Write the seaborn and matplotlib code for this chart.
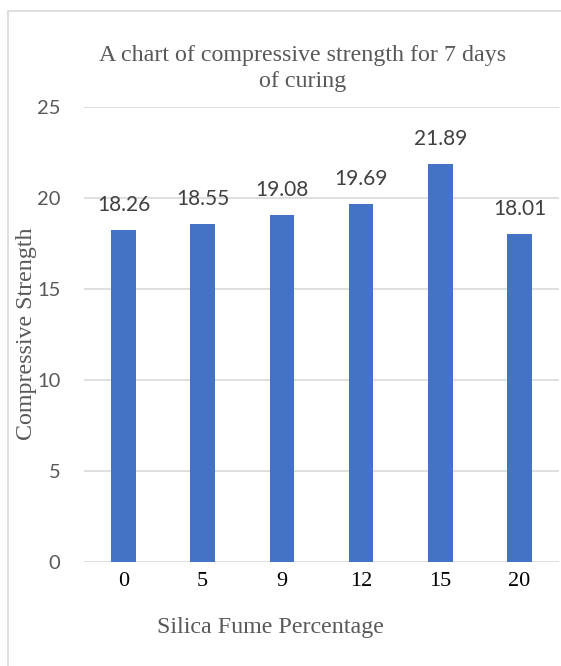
import matplotlib
matplotlib.use("Agg")
import matplotlib.pyplot as plt
from matplotlib.lines import Line2D
import seaborn as sns
import pandas as pd

# Silica fume replacement levels (%) and 7-day compressive strength
silica_fume = ["0", "5", "9", "12", "15", "20"]
strength = [18.26, 18.55, 19.08, 19.69, 21.89, 18.01]
y_ticks = [0, 5, 10, 15, 20, 25]

df = pd.DataFrame({"Silica Fume Percentage": silica_fume,
                   "Compressive Strength": strength})

sns.set_theme(style="white")
plt.rcParams["font.serif"] = ["Liberation Serif", "Times New Roman", "DejaVu Serif"]
plt.rcParams["font.family"] = ["serif"]
SERIF = "serif"
SANS = "Lato"

W, H = 561, 666
fig = plt.figure(figsize=(W / 100, H / 100), dpi=100)
fig.patch.set_facecolor("white")

# plot area in pixel coordinates
left, right, top, bottom = 84, 559, 107, 562
ax = fig.add_axes([left / W, 1 - bottom / H, (right - left) / W, (bottom - top) / H])

sns.barplot(data=df, x="Silica Fume Percentage", y="Compressive Strength",
            order=silica_fume, color="#4472C4", saturation=1, width=0.31,
            edgecolor="none", ax=ax)

ax.set_ylim(0, 25)
ax.set_xlim(-0.5, len(silica_fume) - 0.5)
ax.set_yticks(y_ticks)
ax.set_yticklabels([str(t) for t in y_ticks], family=SANS, fontsize=14.5,
                   color="#595959")
ax.set_xticks(range(len(silica_fume)))
ax.set_xticklabels(silica_fume, family=SERIF, fontsize=16, color="#000000")
ax.tick_params(axis="y", length=0, pad=17)
ax.tick_params(axis="x", length=0, pad=7)

ax.yaxis.grid(True, color="#D9D9D9", linewidth=1.2)
ax.set_axisbelow(True)
for s in ax.spines.values():
    s.set_visible(False)
ax.set_xlabel("")
ax.set_ylabel("")

# value labels above each bar
for i, v in enumerate(strength):
    ax.annotate(f"{v:.2f}", xy=(i, v), xytext=(0, 18), textcoords="offset points",
                ha="center", va="center", family=SANS, fontsize=15,
                color="#404040")

# chart title and axis titles
title_kw = dict(ha="center", va="center", family=SERIF, fontsize=17.3, color="#595959")
fig.text(303 / W, 1 - 55 / H, "A chart of compressive strength for 7 days", **title_kw)
fig.text(303 / W, 1 - 82 / H, "of curing", **title_kw)
fig.text(270 / W, 1 - 628 / H, "Silica Fume Percentage", **title_kw)
fig.text(27 / W, 1 - 334 / H, "Compressive Strength", rotation=90, **title_kw)

# chart area frame
fig.add_artist(Line2D([7.5 / W, 7.5 / W], [1 - 10.5 / H, 0], color="#D9D9D9",
                      linewidth=1.2, transform=fig.transFigure))
fig.add_artist(Line2D([7.5 / W, 1], [1 - 10.5 / H, 1 - 10.5 / H], color="#D9D9D9",
                      linewidth=1.2, transform=fig.transFigure))

fig.savefig("out.png", dpi=100, facecolor="white")
